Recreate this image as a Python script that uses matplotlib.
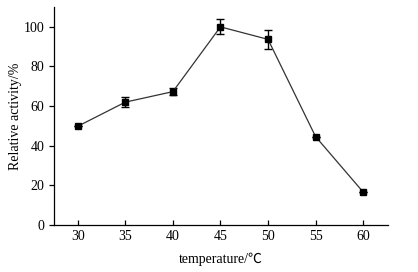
import matplotlib
matplotlib.use('Agg')
import matplotlib.pyplot as plt

# temperature vs relative activity
temperature = [30, 35, 40, 45, 50, 55, 60]
activity = [49.8, 62.0, 67.3, 100.0, 93.7, 44.6, 16.6]
error = [0.0, 2.4, 1.8, 3.8, 4.8, 0.0, 0.0]
xticks = [30, 35, 40, 45, 50, 55, 60]
yticks = [0, 20, 40, 60, 80, 100]

plt.rcParams['font.family'] = ['Liberation Serif', 'Noto Sans CJK SC']
plt.rcParams['font.size'] = 10

fig = plt.figure(figsize=(4.18, 2.72), dpi=100)
ax = fig.add_axes([0.129, 0.173, 0.799, 0.801])

ax.errorbar(temperature, activity, yerr=error, color='#333333', lw=0.9,
            marker='s', markersize=5, mfc='black', mec='black',
            ecolor='black', elinewidth=1.0, capsize=3, capthick=1.0)

ax.set_xlim(27.5, 62.6)
ax.set_ylim(0, 110)
ax.set_xticks(xticks)
ax.set_yticks(yticks)
ax.spines['top'].set_visible(False)
ax.spines['right'].set_visible(False)
ax.tick_params(axis='x', direction='in', length=3.5, width=0.9)
ax.tick_params(axis='y', direction='out', length=3.5, width=0.9)
for s in ['left', 'bottom']:
    ax.spines[s].set_linewidth(0.9)

ax.set_xlabel('temperature/\u2103', labelpad=7)
ax.set_ylabel('Relative activity/%', labelpad=1)

fig.savefig('out.png', dpi=100)
